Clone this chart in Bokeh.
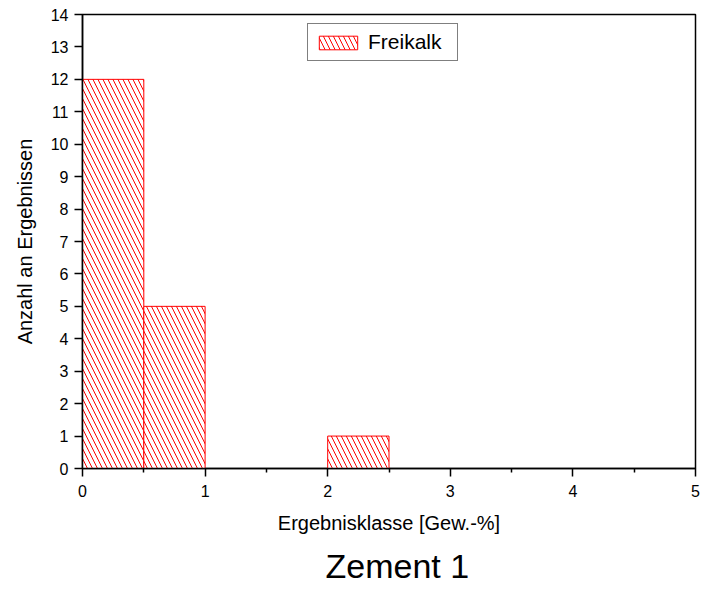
from bokeh.plotting import figure
from bokeh.models import Range1d, FixedTicker, Title, Legend, LegendItem
from bokeh.embed import file_html
from bokeh.resources import INLINE

bin_left = [0.0, 0.5, 2.0]
bin_right = [0.5, 1.0, 2.5]
counts = [12, 5, 1]
series_name = "Freikalk"
x_ticks = [0, 1, 2, 3, 4, 5]
y_ticks = list(range(0, 15))

FONT = "Liberation Sans"

p = figure(width=700, height=592, output_backend="svg", toolbar_location=None,
           x_range=Range1d(0, 5), y_range=Range1d(0, 14),
           min_border_left=82, min_border_right=5, min_border_top=14, min_border_bottom=20)
p.frame_width = 613
p.frame_height = 454

r = p.quad(left=bin_left, right=bin_right, bottom=0, top=counts,
           fill_color="white", line_color="red", line_width=1,
           hatch_pattern="\\", hatch_color="red", hatch_scale=10, hatch_weight=1)

p.xgrid.visible = False
p.ygrid.visible = False
p.outline_line_color = "black"
p.outline_line_width = 1.5

for ax in (p.xaxis[0], p.yaxis[0]):
    ax.axis_line_width = 1.5
    ax.axis_line_color = "black"
    ax.major_tick_line_width = 1.5
    ax.minor_tick_line_width = 1.5
    ax.major_tick_in = 0
    ax.major_tick_out = 8
    ax.minor_tick_in = 0
    ax.minor_tick_out = 4
    ax.major_label_text_font = FONT
    ax.major_label_text_font_size = "16px"
    ax.major_label_text_color = "black"
    ax.axis_label_text_font = FONT
    ax.axis_label_text_font_size = "20px"
    ax.axis_label_text_font_style = "normal"
    ax.axis_label_text_color = "black"

p.xaxis.ticker = FixedTicker(ticks=x_ticks, minor_ticks=[0.5, 1.5, 2.5, 3.5, 4.5])
p.yaxis.ticker = FixedTicker(ticks=y_ticks, minor_ticks=[])
p.xaxis.axis_label = "Ergebnisklasse [Gew.-%]"
p.yaxis.axis_label = "Anzahl an Ergebnissen"
p.xaxis.major_label_standoff = 8
p.xaxis.axis_label_standoff = 12
p.yaxis.major_label_standoff = 6
p.yaxis.axis_label_standoff = 12

legend = Legend(items=[LegendItem(label=series_name, renderers=[r])],
                location=(225, 407), glyph_width=48, glyph_height=17,
                label_text_font=FONT, label_text_font_size="21px",
                label_text_color="black", label_width=83,
                border_line_color="black", border_line_width=1,
                padding=6, spacing=0, margin=0, label_standoff=6)
p.add_layout(legend)

t = Title(text="Zement 1", align="left", text_font=FONT, text_font_size="34px",
          text_font_style="normal", text_color="black", standoff=16, offset=243)
p.add_layout(t, "below")

open("out.html", "w").write(file_html(p, INLINE))
